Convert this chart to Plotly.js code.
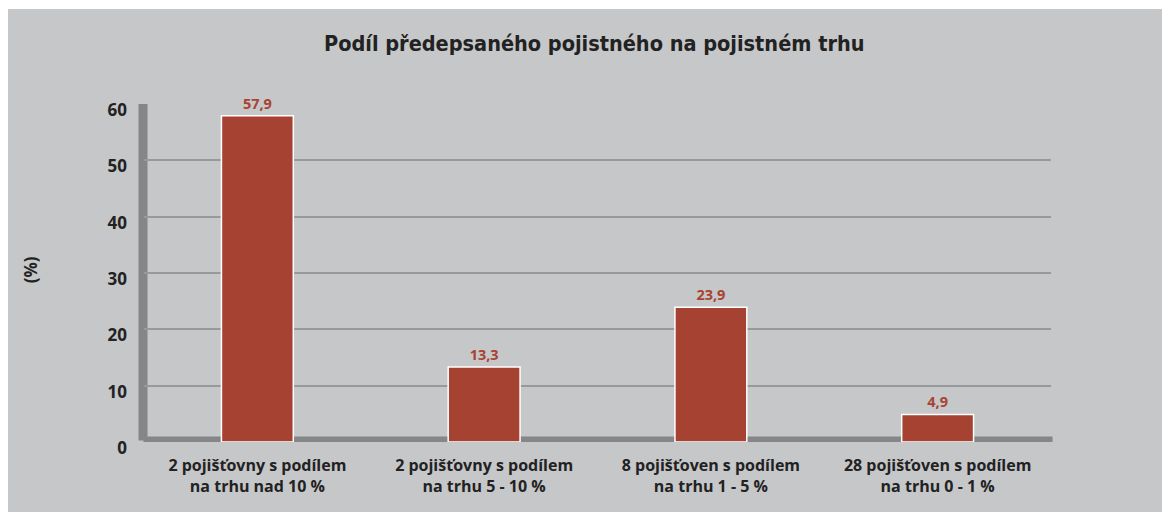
<!DOCTYPE html>
<html>
<head>
<meta charset="utf-8">
<script src="https://cdn.plot.ly/plotly-3.0.1.min.js"></script>
<style>
html,body{margin:0;padding:0;background:#ffffff;width:1162px;height:512px;overflow:hidden;}
#chart{position:absolute;left:8px;top:9px;width:1154px;height:503px;}
</style>
</head>
<body>
<div id="chart"></div>
<script>
var categories = [
  "2 pojišťovny s podílem<br>na trhu nad 10 %",
  "2 pojišťovny s podílem<br>na trhu 5 - 10 %",
  "8 pojišťoven s podílem<br>na trhu 1 - 5 %",
  "28 pojišťoven s podílem<br>na trhu 0 - 1 %"
];
var shares = [57.9, 13.3, 23.9, 4.9];
var yTicks = [0, 10, 20, 30, 40, 50, 60];

var font = "'Open Sans', 'DejaVu Sans Condensed', sans-serif";

var trace = {
  type: 'bar',
  x: categories,
  y: shares,
  marker: {color: '#a54232', line: {color: '#ffffff', width: 1.5}},
  texttemplate: '%{y:.1f}',
  textposition: 'outside',
  cliponaxis: false,
  textfont: {family: font, size: 14.5, color: '#a84332', weight: 'bold'},
  hoverinfo: 'none'
};

var layout = {
  width: 1154,
  height: 503,
  paper_bgcolor: '#c6c7c9',
  plot_bgcolor: 'rgba(0,0,0,0)',
  separators: ', ',
  margin: {l: 135.5, r: 110.5, t: 94.5, b: 69.5},
  bargap: 0.683,
  showlegend: false,
  title: {
    text: 'Podíl předepsaného pojistného na pojistném trhu',
    font: {family: "'DejaVu Sans Condensed', sans-serif", size: 21.5, color: '#222222', weight: 'bold'},
    x: 0.508, xref: 'container', xanchor: 'center',
    y: 0.932, yref: 'container', yanchor: 'middle'
  },
  xaxis: {
    type: 'category',
    showgrid: false, zeroline: false, showline: false,
    ticks: '',
    tickfont: {family: font, size: 16, color: '#222222', weight: 'bold'},
    ticklabelstandoff: 12
  },
  yaxis: {
    range: [0, 60],
    tickvals: yTicks,
    showgrid: true, gridcolor: '#98999b', gridwidth: 1.8,
    zeroline: false, showline: false,
    ticks: '',
    tickfont: {family: font, size: 17, color: '#222222', weight: 'bold'},
    ticklabelstandoff: 16,
    ticklabelshift: 6
  },
  shapes: [
    {type: 'rect', layer: 'below', xref: 'paper', yref: 'y',
     x0: -0.00606, x1: 0.00385, y0: 0.27, y1: 60,
     fillcolor: '#858688', line: {width: 0}},
    {type: 'rect', layer: 'below', xref: 'paper', yref: 'y',
     x0: -0.0006, x1: 1.0017, y0: -0.8, y1: 0.97,
     fillcolor: '#858688', line: {width: 0}}
  ],
  annotations: [
    {text: '(%)', xref: 'paper', yref: 'paper', x: -0.125, y: 0.51,
     showarrow: false, textangle: -90, xanchor: 'center', yanchor: 'middle',
     font: {family: font, size: 17, color: '#222222', weight: 'bold'}}
  ]
};

Plotly.newPlot('chart', [trace], layout, {displayModeBar: false, staticPlot: true});
</script>
</body>
</html>
